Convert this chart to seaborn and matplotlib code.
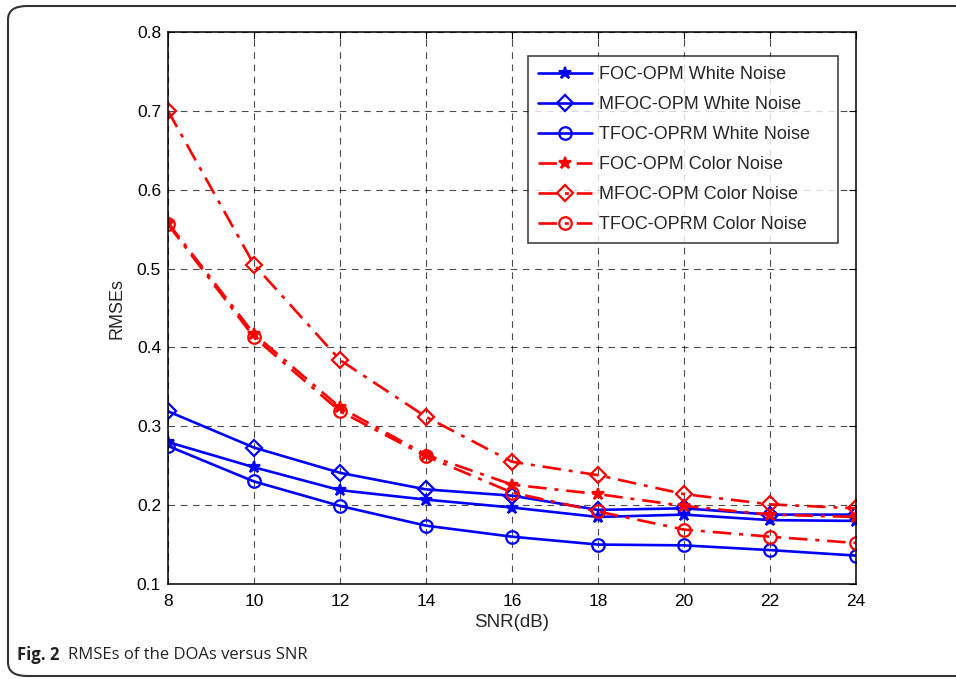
import matplotlib
matplotlib.use("Agg")
import matplotlib.pyplot as plt
from matplotlib.patches import FancyBboxPatch
import seaborn as sns
import pandas as pd

snr = [8, 10, 12, 14, 16, 18, 20, 22, 24]

foc_white = [0.280, 0.248, 0.219, 0.207, 0.197, 0.185, 0.188, 0.181, 0.180]
mfoc_white = [0.319, 0.273, 0.241, 0.220, 0.212, 0.194, 0.196, 0.188, 0.188]
tfoc_white = [0.275, 0.230, 0.199, 0.174, 0.160, 0.150, 0.149, 0.143, 0.136]
foc_color = [0.558, 0.417, 0.324, 0.264, 0.226, 0.214, 0.199, 0.188, 0.185]
mfoc_color = [0.700, 0.505, 0.384, 0.312, 0.255, 0.238, 0.214, 0.201, 0.196]
tfoc_color = [0.556, 0.413, 0.319, 0.262, 0.216, 0.192, 0.169, 0.160, 0.152]

labels = ["FOC-OPM White Noise", "MFOC-OPM White Noise", "TFOC-OPRM White Noise",
          "FOC-OPM Color Noise", "MFOC-OPM Color Noise", "TFOC-OPRM Color Noise"]
series = [foc_white, mfoc_white, tfoc_white, foc_color, mfoc_color, tfoc_color]

xticks = [8, 10, 12, 14, 16, 18, 20, 22, 24]
yticks = [0.1, 0.2, 0.3, 0.4, 0.5, 0.6, 0.7, 0.8]

sns.set_style("white")
plt.rcParams['font.family'] = ['Liberation Sans', 'DejaVu Sans']

fig = plt.figure(figsize=(9.56, 6.79), dpi=100)
ax = fig.add_axes([168 / 956, 1 - 584 / 679, 688 / 956, 552 / 679])

markers = ['*', 'D', 'o', '*', 'D', 'o']
msizes = [9, 8, 9, 9, 8, 9]
colors = ['#0000ff'] * 3 + ['#ff0000'] * 3
dashdot = (0, (7, 3, 1.5, 3))
styles = ['-'] * 3 + [dashdot] * 3

for lab, ys, mk, ms, c, ls in zip(labels, series, markers, msizes, colors, styles):
    df = pd.DataFrame({"SNR": snr, "RMSE": ys})
    sns.lineplot(data=df, x="SNR", y="RMSE", ax=ax, color=c, linestyle=ls,
                 linewidth=1.9, marker=mk, markersize=ms,
                 markerfacecolor='none' if mk != '*' else c,
                 markeredgecolor=c, markeredgewidth=1.6, label=lab)

ax.set_xlim(8, 24)
ax.set_ylim(0.1, 0.8)
ax.set_xticks(xticks)
ax.set_yticks(yticks)
ax.set_xticklabels([str(v) for v in xticks])
ax.set_yticklabels([f"{v:.1f}" for v in yticks])
ax.tick_params(axis='both', direction='in', length=5, width=0.8, labelsize=12.5,
               top=True, right=True, colors='black')
ax.tick_params(axis='x', pad=7)
ax.tick_params(axis='y', pad=5)
ax.grid(True, color='black', linestyle=(0, (6, 5)), linewidth=0.8, alpha=0.7)
for s in ax.spines.values():
    s.set_color('black')
    s.set_linewidth(1.1)

ax.set_xlabel("SNR(dB)", fontsize=13.5, labelpad=4)
ax.set_ylabel("RMSEs", fontsize=13)
ax.yaxis.set_label_coords(-0.062, 0.5)

x0, x1 = 528 / 956, 838 / 956
y0, y1 = 1 - 243 / 679, 1 - 56 / 679
leg = ax.legend(loc='upper left', bbox_to_anchor=(x0, y0, x1 - x0, y1 - y0),
                bbox_transform=fig.transFigure, mode='expand', fontsize=13,
                frameon=True, fancybox=False, edgecolor='black', handlelength=3.0,
                borderpad=0.55, labelspacing=0.72, handletextpad=0.4,
                borderaxespad=0)
leg.get_frame().set_linewidth(1.1)

box = FancyBboxPatch((8 / 956, 1 - 676 / 679), 1.2, 670 / 679,
                     boxstyle="round,pad=0,rounding_size=0.02",
                     transform=fig.transFigure, fill=False,
                     edgecolor='#333333', linewidth=1.5, clip_on=False)
fig.patches.append(box)

fig.text(17 / 956, 1 - 655 / 679, "Fig. 2", fontsize=12, fontweight='bold',
         family=['Open Sans', 'DejaVu Sans'], va='center', ha='left', color='#222222')
fig.text(68 / 956, 1 - 655 / 679, "RMSEs of the DOAs versus SNR", fontsize=12,
         family=['Open Sans', 'DejaVu Sans'], va='center', ha='left', color='#222222')

fig.savefig("out.png", dpi=100)
